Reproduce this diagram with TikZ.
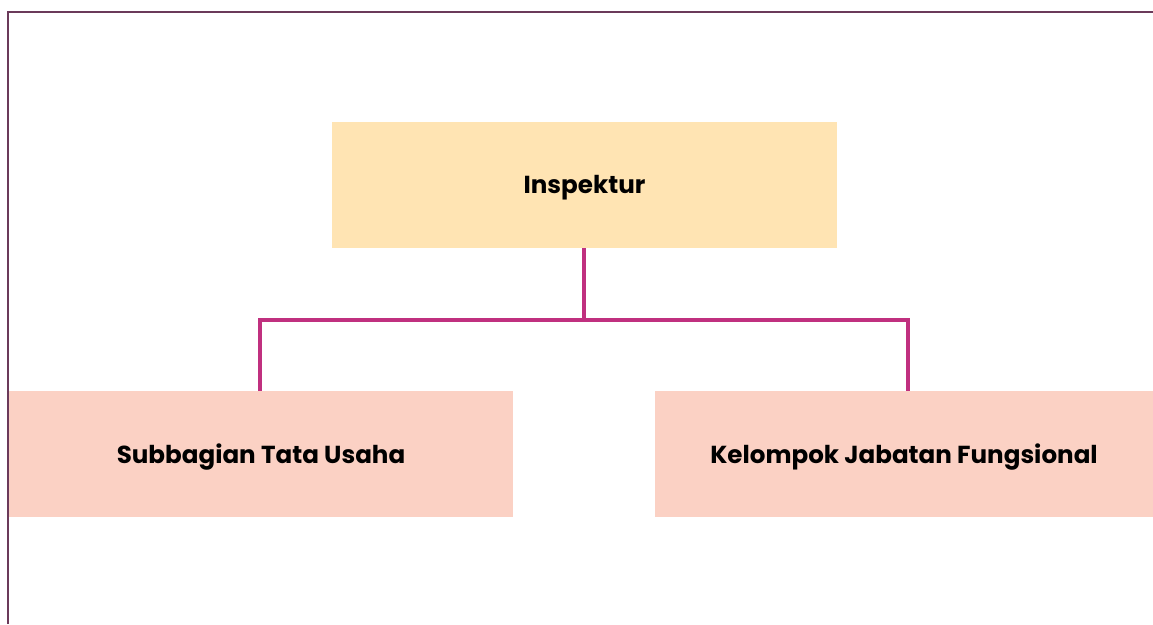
\documentclass[tikz,border=0pt]{standalone}
\usepackage{fontspec}
\setmainfont{Poppins}
\definecolor{framecol}{HTML}{6B3A5A}
\definecolor{linkcol}{HTML}{C0307F}
\definecolor{headfill}{HTML}{FFE4B3}
\definecolor{unitfill}{HTML}{FBD1C4}
\begin{document}
\begin{tikzpicture}[x=1pt,y=-1pt,
  boxtext/.style={font=\fontsize{24.6}{28}\selectfont\bfseries},
  headbox/.style={fill=headfill,draw=none,minimum width=505pt,minimum height=126pt,inner sep=0pt},
  unitbox/.style={fill=unitfill,draw=none,minimum height=126pt,inner sep=0pt},
  link/.style={draw=linkcol,line width=3.2pt}]
\useasboundingbox (0,0) rectangle (1153,624);
% page frame: top and left rules
\draw[framecol,line width=2.6pt] (8,624) -- (8,12) -- (1153,12);
% boxes
\node[headbox] (insp) at (584.5,185) {};
\node[unitbox,minimum width=504pt] (sub) at (261,454) {};
\node[unitbox,minimum width=498pt] (kjf) at (904,454) {};
% labels
\node[boxtext] (inspt) at ([yshift=-3pt]insp.center) {Inspektur};
\node[boxtext] (subt) at ([yshift=-3pt]sub.center) {Subbagian Tata Usaha};
\node[boxtext] (kjft) at ([yshift=-3pt]kjf.center) {Kelompok Jabatan Fungsional};
% connectors
\coordinate (bus) at (584,320);
\draw[link] (insp.south -| bus) -- (bus);
\draw[link] (sub.north -| 260,0) |- (bus) -| (kjf.north -| 908,0);
\end{tikzpicture}
\end{document}
